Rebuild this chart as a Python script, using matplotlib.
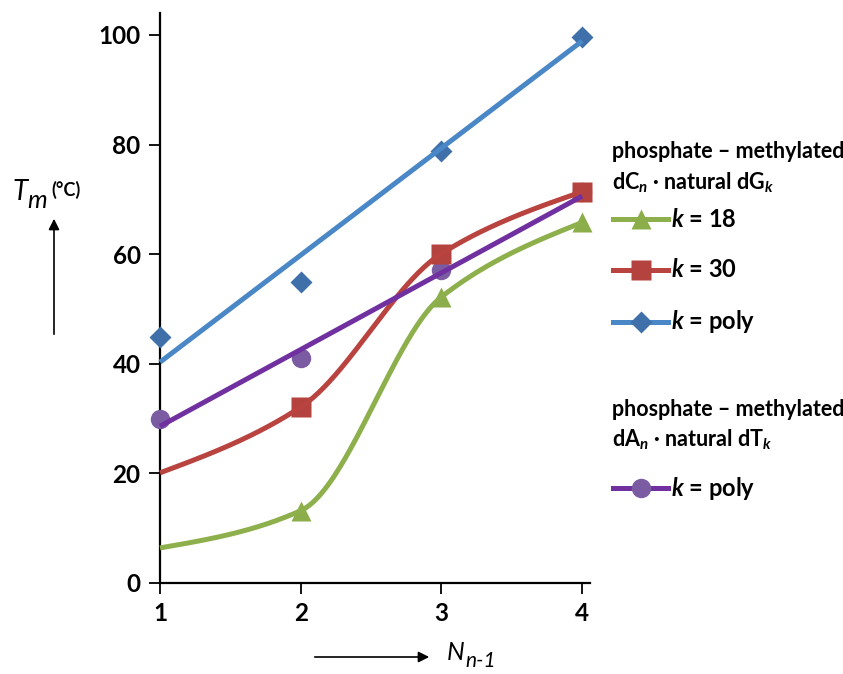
import numpy as np
import matplotlib
matplotlib.use("Agg")
import matplotlib.pyplot as plt
from matplotlib.lines import Line2D
from matplotlib.patches import FancyArrowPatch

plt.rcParams['font.family'] = ['Lato', 'DejaVu Sans']
plt.rcParams['mathtext.fontset'] = 'custom'
plt.rcParams['mathtext.rm'] = 'Lato:bold'
plt.rcParams['mathtext.it'] = 'Lato:italic:bold'
plt.rcParams['mathtext.bf'] = 'Lato:bold'

# ---- data ----
n_values = [1, 2, 3, 4]
x_ticks = [1, 2, 3, 4]
y_ticks = [0, 20, 40, 60, 80, 100]

k18_tm = [6.4, 13.2, 52.2, 65.8]        # green, phosphate-methylated dCn . natural dGk, k=18
k30_tm = [20.1, 32.1, 60.1, 71.4]       # red, k=30
kpoly_tm = [44.9, 54.9, 78.8, 99.6]     # blue, k=poly
kpoly_trend = [40.3, 98.9]              # blue linear trend (at n=1 and n=4)
at_poly_tm = [29.9, 41.1, 57.1, 71.4]   # purple, dAn . natural dTk, k=poly
at_poly_trend = [28.6, 70.6]            # purple linear trend
trend_x = [1, 4]

GREEN_L, GREEN_M = '#8db04c', '#8cae4a'
RED_L, RED_M = '#b8433f', '#b4423e'
BLUE_L, BLUE_M = '#4a87c6', '#3f70aa'
PURP_L, PURP_M = '#7030a0', '#7b5ca3'


def smooth(x, y, n=80):
    """Monotone-style cubic Hermite through the points."""
    x = np.asarray(x, float)
    y = np.asarray(y, float)
    h = np.diff(x)
    d = np.diff(y) / h
    m = np.zeros_like(y)
    for i in range(1, len(y) - 1):
        if d[i - 1] * d[i] > 0:
            m[i] = 2.0 / (1.0 / d[i - 1] + 1.0 / d[i])
    m[0] = (3 * d[0] - m[1]) / 2
    m[-1] = (3 * d[-1] - m[-2]) / 2
    xs, ys = [], []
    for i in range(len(h)):
        t = np.linspace(0, 1, n)
        h00 = 2 * t**3 - 3 * t**2 + 1
        h10 = t**3 - 2 * t**2 + t
        h01 = -2 * t**3 + 3 * t**2
        h11 = t**3 - t**2
        yy = h00 * y[i] + h10 * h[i] * m[i] + h01 * y[i + 1] + h11 * h[i] * m[i + 1]
        xx = x[i] + t * h[i]
        if i > 0:
            xx, yy = xx[1:], yy[1:]
        xs.append(xx)
        ys.append(yy)
    return np.concatenate(xs), np.concatenate(ys)


fig = plt.figure(figsize=(8.43, 6.74), dpi=100)
W, H = 843, 674
ax = fig.add_axes([160 / W, 1 - 583 / H, 430 / W, 570 / H])
ax.set_xlim(1, 1 + 430 / 140.7)
ax.set_ylim(0, 570 / 5.48)

# markers (under lines)
ax.plot(n_values, at_poly_tm, ls='none', marker='o', ms=14, color=PURP_M, mec='none', zorder=2, clip_on=False)
ax.plot(n_values[1:], k30_tm[1:], ls='none', marker='s', ms=14, color=RED_M, mec='none', zorder=2.2, clip_on=False)
ax.plot(n_values[1:], k18_tm[1:], ls='none', marker='^', ms=14.5, color=GREEN_M, mec='none', zorder=2.2, clip_on=False)
ax.plot(n_values, kpoly_tm, ls='none', marker='D', ms=11, color=BLUE_M, mec='none', zorder=2.2, clip_on=False)

# lines
gx, gy = smooth(n_values, k18_tm)
ax.plot(gx, gy, color=GREEN_L, lw=3.6, zorder=3, solid_capstyle='butt', clip_on=False)
rx, ry = smooth(n_values, k30_tm)
ax.plot(rx, ry, color=RED_L, lw=3.6, zorder=3, solid_capstyle='butt', clip_on=False)
ax.plot(trend_x, kpoly_trend, color=BLUE_L, lw=3.6, zorder=3, solid_capstyle='butt', clip_on=False)
ax.plot(trend_x, at_poly_trend, color=PURP_L, lw=3.6, zorder=3.5, solid_capstyle='butt', clip_on=False)

for s in ['top', 'right']:
    ax.spines[s].set_visible(False)
for s in ['left', 'bottom']:
    ax.spines[s].set_linewidth(1.6)
    ax.spines[s].set_zorder(1)
ax.set_xticks(x_ticks)
ax.set_yticks(y_ticks)
ax.tick_params(direction='out', length=8, width=1.3, labelsize=17.5, pad=6)
for lab in ax.get_xticklabels() + ax.get_yticklabels():
    lab.set_fontweight('bold')

# axis labels with arrows
fig.text(12 / W, 1 - 192 / H, 'T', fontsize=20, style='italic', va='center', ha='left')
fig.text(27 / W, 1 - 200 / H, 'm', fontsize=18, style='italic', va='center', ha='left')
fig.text(51 / W, 1 - 190 / H, '(°C)', fontsize=13, fontweight='bold', va='center', ha='left')
fig.add_artist(FancyArrowPatch((54 / W, 1 - 337 / H), (54 / W, 1 - 216 / H),
               transform=fig.transFigure, arrowstyle='-|>', mutation_scale=16, lw=1.2, color='black'))
fig.add_artist(FancyArrowPatch((312 / W, 1 - 657 / H), (432 / W, 1 - 657 / H),
               transform=fig.transFigure, arrowstyle='-|>', mutation_scale=16, lw=1.2, color='black'))
fig.text(447 / W, 1 - 652 / H, 'N', fontsize=18, style='italic', va='center', ha='left')
fig.text(465 / W, 1 - 661 / H, 'n-1', fontsize=15, style='italic', va='center', ha='left')

# legend (manual)
LX = 612 / W
fs = 15.5
fig.text(LX, 1 - 152 / H, 'phosphate – methylated', fontsize=fs, fontweight='bold', va='center', ha='left')
fig.text(LX, 1 - 183 / H, r'dC$_{\mathit{n}}$ · natural dG$_{\mathit{k}}$', fontsize=fs, fontweight='bold', va='center', ha='left')
fig.text(LX, 1 - 410 / H, 'phosphate – methylated', fontsize=fs, fontweight='bold', va='center', ha='left')
fig.text(LX, 1 - 440 / H, r'dA$_{\mathit{n}}$ · natural dT$_{\mathit{k}}$', fontsize=fs, fontweight='bold', va='center', ha='left')

entries = [(219, GREEN_L, GREEN_M, '^', 14.5, '18'),
           (270, RED_L, RED_M, 's', 14, '30'),
           (322, BLUE_L, BLUE_M, 'D', 11, 'poly'),
           (488, PURP_L, PURP_M, 'o', 14, 'poly')]
for yp, lc, mc, mk, ms, lab in entries:
    yy = 1 - yp / H
    fig.add_artist(Line2D([613 / W, 668 / W], [yy, yy], transform=fig.transFigure, color=lc, lw=3.6))
    fig.add_artist(Line2D([641 / W], [yy], transform=fig.transFigure, marker=mk, ms=ms, color=mc, mec='none', ls='none'))
    fig.text(671 / W, yy, r'$\mathit{k}$ = ' + lab, fontsize=17, fontweight='bold', va='center', ha='left')

fig.savefig('out.png', dpi=100)
